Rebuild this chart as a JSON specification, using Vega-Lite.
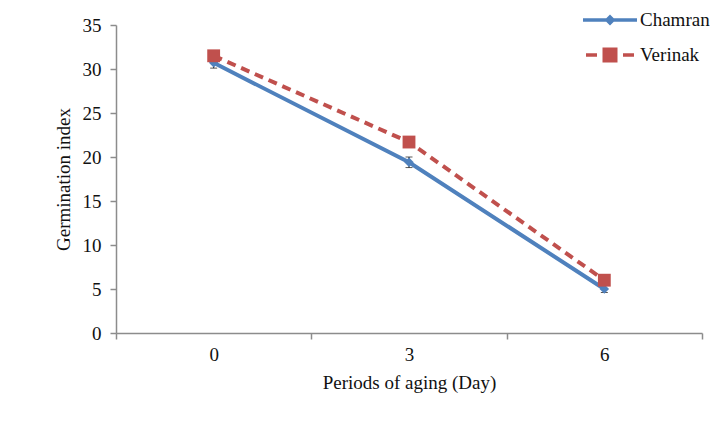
{
  "$schema": "https://vega.github.io/schema/vega-lite/v6.json",
  "width": 586,
  "height": 308,
  "autosize": {"type": "none"},
  "padding": {"left": 116, "top": 25, "right": 12, "bottom": 90},
  "background": "white",
  "config": {
    "view": {"stroke": null},
    "font": "Liberation Serif",
    "axis": {
      "domainColor": "#8c8c8c",
      "tickColor": "#8c8c8c",
      "domainWidth": 1.5,
      "tickWidth": 1.5,
      "labelColor": "#111111",
      "titleColor": "#111111",
      "labelFont": "Liberation Serif",
      "titleFont": "Liberation Serif",
      "labelFontSize": 19,
      "titleFontSize": 19,
      "titleFontWeight": "normal",
      "grid": false,
      "tickSize": 6
    }
  },
  "data": {
    "values": [
      {"day": "0", "series": "Chamran", "gi": 30.7, "lo": 30.1, "hi": 31.3},
      {"day": "3", "series": "Chamran", "gi": 19.4, "lo": 18.8, "hi": 20.0},
      {"day": "6", "series": "Chamran", "gi": 5.0, "lo": 4.6, "hi": 5.4},
      {"day": "0", "series": "Verinak", "gi": 31.5, "lo": 31.0, "hi": 32.0},
      {"day": "3", "series": "Verinak", "gi": 21.7, "lo": 21.2, "hi": 22.2},
      {"day": "6", "series": "Verinak", "gi": 6.0, "lo": 5.6, "hi": 6.4}
    ]
  },
  "encoding": {
    "x": {
      "field": "day",
      "type": "ordinal",
      "sort": ["0", "3", "6"],
      "scale": {"type": "band", "paddingInner": 0, "paddingOuter": 0},
      "axis": {"title": "Periods of aging (Day)", "labelAngle": 0, "tickBand": "extent", "labelPadding": 6, "titlePadding": 9}
    }
  },
  "layer": [
    {
      "transform": [{"filter": "datum.series == 'Chamran'"}],
      "mark": {"type": "line", "color": "#4F81BD", "strokeWidth": 4},
      "encoding": {
        "y": {
          "field": "gi",
          "type": "quantitative",
          "title": "Germination  index",
          "scale": {"domain": [0, 35], "nice": false},
          "axis": {"title": "Germination  index", "values": [0, 5, 10, 15, 20, 25, 30, 35], "labelPadding": 9, "titlePadding": 9}
        }
      }
    },
    {
      "transform": [{"filter": "datum.series == 'Chamran'"}],
      "mark": {"type": "errorbar", "color": "#111111", "ticks": {"size": 7, "color": "#111111"}},
      "encoding": {
        "y": {"field": "lo", "type": "quantitative", "title": "Germination  index"},
        "y2": {"field": "hi"}
      }
    },
    {
      "transform": [{"filter": "datum.series == 'Chamran'"}],
      "mark": {"type": "point", "shape": "diamond", "filled": true, "color": "#4F81BD", "size": 90, "opacity": 1},
      "encoding": {"y": {"field": "gi", "type": "quantitative", "title": "Germination  index"}}
    },
    {
      "transform": [{"filter": "datum.series == 'Verinak'"}],
      "mark": {"type": "line", "color": "#C0504D", "strokeWidth": 4, "strokeDash": [9, 6]},
      "encoding": {"y": {"field": "gi", "type": "quantitative", "title": "Germination  index"}}
    },
    {
      "transform": [{"filter": "datum.series == 'Verinak'"}],
      "mark": {"type": "point", "shape": "square", "filled": true, "color": "#C0504D", "size": 165, "opacity": 1},
      "encoding": {"y": {"field": "gi", "type": "quantitative", "title": "Germination  index"}}
    },
    {
      "transform": [{"filter": "false"}],
      "mark": {"type": "point", "filled": true, "size": 400, "opacity": 1},
      "encoding": {
        "y": {"field": "gi", "type": "quantitative", "title": "Germination  index"},
        "color": {
          "field": "series",
          "type": "nominal",
          "scale": {"domain": ["Chamran", "Verinak"], "range": ["#4F81BD", "#C0504D"]},
          "legend": {
            "title": null,
            "orient": "none",
            "legendX": 484,
            "legendY": -15,
            "padding": 0,
            "labelOffset": 20,
            "rowPadding": 15,
            "labelFontSize": 19,
            "labelFont": "Liberation Serif",
            "labelColor": "#111111",
            "symbolSize": 400,
            "symbolStrokeWidth": 0
          }
        },
        "shape": {
          "field": "series",
          "type": "nominal",
          "scale": {
            "domain": ["Chamran", "Verinak"],
            "range": [
              "M-2.7,-0.17H2.7V0.17H-2.7Z M0,-0.55L0.55,0L0,0.55L-0.55,0Z",
              "M-2.4,-0.17H-1.3V0.17H-2.4Z M1.3,-0.17H2.4V0.17H1.3Z M-0.75,-0.75H0.75V0.75H-0.75Z"
            ]
          }
        }
      }
    }
  ]
}
